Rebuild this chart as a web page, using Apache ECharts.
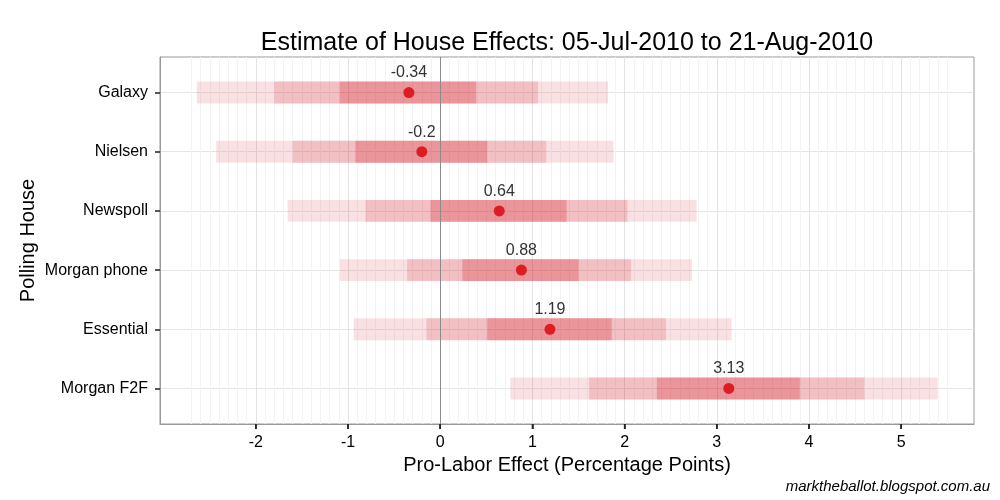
<!DOCTYPE html>
<html><head><meta charset="utf-8">
<script src="https://cdn.jsdelivr.net/npm/echarts@6/dist/echarts.min.js"></script>
<style>html,body{margin:0;padding:0;background:#fff}#c{width:1000px;height:500px}</style>
</head><body><div id="c"></div>
<script>
const houses = ['Galaxy', 'Nielsen', 'Newspoll', 'Morgan phone', 'Essential', 'Morgan F2F'];
const estimates = [-0.34, -0.2, 0.64, 0.88, 1.19, 3.13];
const estimateLabels = ['-0.34', '-0.2', '0.64', '0.88', '1.19', '3.13'];
const innerLow  = [-1.09, -0.92, -0.105, 0.24, 0.51, 2.35];
const innerHigh = [0.39, 0.51, 1.37, 1.50, 1.86, 3.90];
const midLow    = [-1.80, -1.60, -0.81, -0.36, -0.15, 1.615];
const midHigh   = [1.06, 1.15, 2.03, 2.07, 2.45, 4.60];
const outerLow  = [-2.64, -2.43, -1.655, -1.09, -0.94, 0.76];
const outerHigh = [1.82, 1.88, 2.78, 2.73, 3.16, 5.395];
const xTicks = [-2, -1, 0, 1, 2, 3, 4, 5];
const yTicks = [1, 2, 3, 4, 5, 6];
const Y_MIN = 0.4, Y_MAX = 6.6, X_MIN = -3.04, X_MAX = 5.79;

const xMinor = [];
for (let i = -27; i <= 55; i++) { if (i % 10 !== 0) xMinor.push(i / 10); }

const bandColors = ['rgba(210,25,35,0.13)', 'rgba(210,25,35,0.17)', 'rgba(210,25,35,0.25)'];
const bandData = [];
[[outerLow, outerHigh], [midLow, midHigh], [innerLow, innerHigh]].forEach(function (pair, lvl) {
  houses.forEach(function (h, i) { bandData.push([i + 1, pair[0][i], pair[1][i], lvl]); });
});
const pointData = estimates.map(function (v, i) { return [v, i + 1]; });

const FONT = 'Liberation Sans, Arial, sans-serif';
const footer = {
  type: 'text', right: 10, top: 479,
  style: { text: 'marktheballot.blogspot.com.au', font: 'italic 15px ' + FONT, fill: '#000' }
};
const chart = echarts.init(document.getElementById('c'));
chart.setOption({
  animation: false,
  backgroundColor: '#fff',
  textStyle: { fontFamily: FONT },
  title: {
    text: 'Estimate of House Effects: 05-Jul-2010 to 21-Aug-2010',
    left: 567, top: 31, textAlign: 'center', padding: 0,
    textStyle: { fontFamily: FONT, fontSize: 25, fontWeight: 'normal', color: '#000' }
  },
  graphic: [footer],
  grid: { left: 160, right: 26, top: 57, bottom: 76, show: true, borderColor: '#999', borderWidth: 1, backgroundColor: 'transparent' },
  xAxis: [{
    type: 'value', min: X_MIN, max: X_MAX, position: 'top',
    axisLine: { show: false, onZero: false },
    axisTick: { show: false, customValues: xMinor },
    axisLabel: { show: false, customValues: xMinor },
    splitLine: { show: true, lineStyle: { color: '#f3f3f3', width: 1 } }
  }, {
    type: 'value', min: X_MIN, max: X_MAX, position: 'bottom',
    name: 'Pro-Labor Effect (Percentage Points)', nameLocation: 'middle', nameGap: 31,
    nameTextStyle: { fontFamily: FONT, fontSize: 20, color: '#000' },
    axisLine: { show: true, onZero: false, lineStyle: { color: '#999', width: 1 } },
    axisTick: { show: true, inside: false, customValues: xTicks, length: 5, lineStyle: { color: '#222', width: 1.5 } },
    axisLabel: { customValues: xTicks, fontSize: 16, color: '#000', margin: 11, fontFamily: FONT },
    splitLine: { show: true, lineStyle: { color: '#e3e3e3', width: 1 } }
  }],
  yAxis: {
    type: 'value', min: Y_MIN, max: Y_MAX, inverse: true, position: 'left',
    name: 'Polling House', nameLocation: 'middle', nameGap: 122, nameRotate: 90, nameMoveOverlap: false,
    nameTextStyle: { fontFamily: FONT, fontSize: 20, color: '#000' },
    axisLine: { show: true, onZero: false, lineStyle: { color: '#999', width: 1 } },
    axisTick: { show: true, inside: false, customValues: yTicks, length: 5, lineStyle: { color: '#222', width: 1.5 } },
    axisLabel: { customValues: yTicks, fontSize: 16, color: '#000', margin: 12, fontFamily: FONT,
      formatter: function (v) { return houses[Math.round(v) - 1] || ''; } },
    splitLine: { show: true, lineStyle: { color: '#e6e6e6', width: 1 } }
  },
  series: [{
    type: 'custom',
    xAxisIndex: 1,
    data: bandData,
    encode: { x: [1, 2], y: 0 },
    renderItem: function (params, api) {
      const y = api.value(0), lo = api.value(1), hi = api.value(2), lvl = api.value(3);
      const p1 = api.coord([lo, y]);
      const p2 = api.coord([hi, y]);
      const h = Math.abs(api.size([0, 0.37])[1]);
      return { type: 'rect', shape: { x: p1[0], y: p1[1] - h / 2, width: p2[0] - p1[0], height: h },
        style: { fill: bandColors[lvl] } };
    },
    markLine: {
      silent: true, symbol: 'none', label: { show: false },
      lineStyle: { color: '#8c8c8c', width: 1, type: 'solid' },
      data: [{ xAxis: 0 }]
    },
    z: 2
  }, {
    type: 'scatter',
    xAxisIndex: 1,
    data: pointData,
    symbolSize: 11,
    itemStyle: { color: '#dd1c24', opacity: 1 },
    label: {
      show: true, position: 'top', distance: 6, fontSize: 16, color: '#333', fontFamily: FONT,
      formatter: function (p) { return estimateLabels[p.dataIndex]; }
    },
    z: 3
  }]
});

// x-axis tick marks placed through the library's own x scale
const yBottom = chart.convertToPixel({ yAxisIndex: 0 }, Y_MAX);
const tickGraphics = xTicks.map(function (v) {
  const px = chart.convertToPixel({ xAxisIndex: 1 }, v);
  return { type: 'line', silent: true, z: 100,
    shape: { x1: px, y1: yBottom, x2: px, y2: yBottom + 5 },
    style: { stroke: '#222', lineWidth: 1.5 } };
});
chart.setOption({ graphic: [footer].concat(tickGraphics) });
</script></body></html>
